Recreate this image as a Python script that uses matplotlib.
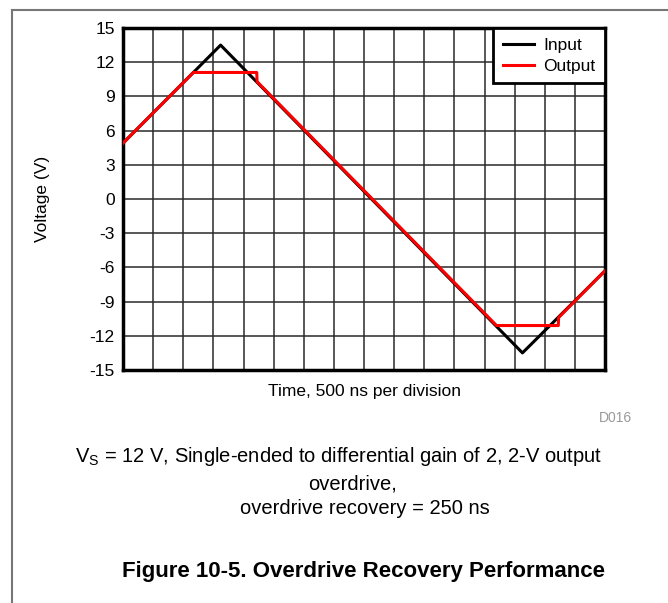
import matplotlib
matplotlib.use("Agg")
import matplotlib.pyplot as plt
from matplotlib.lines import Line2D
from matplotlib.ticker import FuncFormatter

plt.rcParams["font.family"] = ["Liberation Sans", "DejaVu Sans"]

# time in ns (500 ns per division, 16 divisions)
input_t = [0, 1620, 6630, 8000]
input_v = [4.9, 13.5, -13.5, -6.3]

output_t = [0, 1170, 2220, 2225, 6200, 7225, 7230, 8000]
output_v = [4.9, 11.1, 11.1, 10.3, -11.1, -11.1, -10.4, -6.3]

y_ticks = [-15, -12, -9, -6, -3, 0, 3, 6, 9, 12, 15]

fig = plt.figure(figsize=(6.68, 6.03), dpi=100)
ax = fig.add_axes([123 / 668, 1 - 370 / 603, 482 / 668, 342 / 603])

ax.plot(input_t, input_v, color="black", lw=2.2, label="Input", zorder=3)
ax.plot(output_t, output_v, color="#ff0000", lw=2.2, label="Output", zorder=4)

ax.set_xlim(0, 8000)
ax.set_ylim(-15, 15)
ax.set_xticks(range(0, 8001, 500))
ax.set_yticks(y_ticks)
ax.yaxis.set_major_formatter(FuncFormatter(lambda v, p: "%d" % v))
ax.tick_params(axis="x", labelbottom=False, length=0)
ax.tick_params(axis="y", length=0, labelsize=12.5, pad=6)
ax.grid(True, color="#2a2a2a", lw=1.1)
for s in ax.spines.values():
    s.set_linewidth(2.5)

ax.set_ylabel("Voltage (V)", fontsize=12.5)
ax.yaxis.set_label_coords(-0.152, 0.5)
ax.set_xlabel("Time, 500 ns per division", fontsize=12.5)
ax.xaxis.set_label_coords(0.5, -0.042)

leg = ax.legend(loc="upper right", bbox_to_anchor=(1.0, 1.0), fontsize=12.5,
                fancybox=False, framealpha=1, edgecolor="black",
                handlelength=1.8, handletextpad=0.55, borderpad=0.55,
                labelspacing=0.35, borderaxespad=0)
leg.get_frame().set_linewidth(2)

fig.text(632 / 668, 1 - 418 / 603, "D016", color="#999999", fontsize=10,
         ha="right", va="center")

fig.text(339 / 668, 1 - 456 / 603,
         "V$_\\mathregular{S}$ = 12 V, Single-ended to differential gain of 2, 2-V output",
         fontsize=14.5, ha="center", va="center")
fig.text(352 / 668, 1 - 484 / 603, "overdrive,", fontsize=14.5,
         ha="center", va="center")
fig.text(365 / 668, 1 - 509 / 603, "overdrive recovery = 250 ns", fontsize=14.5,
         ha="center", va="center")
fig.text(363 / 668, 1 - 572 / 603, "Figure 10-5. Overdrive Recovery Performance",
         fontsize=16, fontweight="bold", ha="center", va="center")

# page frame around the figure
fig.add_artist(Line2D([12 / 668, 1], [1 - 10 / 603, 1 - 10 / 603],
                      color="#777777", lw=1.5))
fig.add_artist(Line2D([12 / 668, 12 / 668], [0, 1 - 10 / 603],
                      color="#777777", lw=1.5))

fig.savefig("out.png", dpi=100)
